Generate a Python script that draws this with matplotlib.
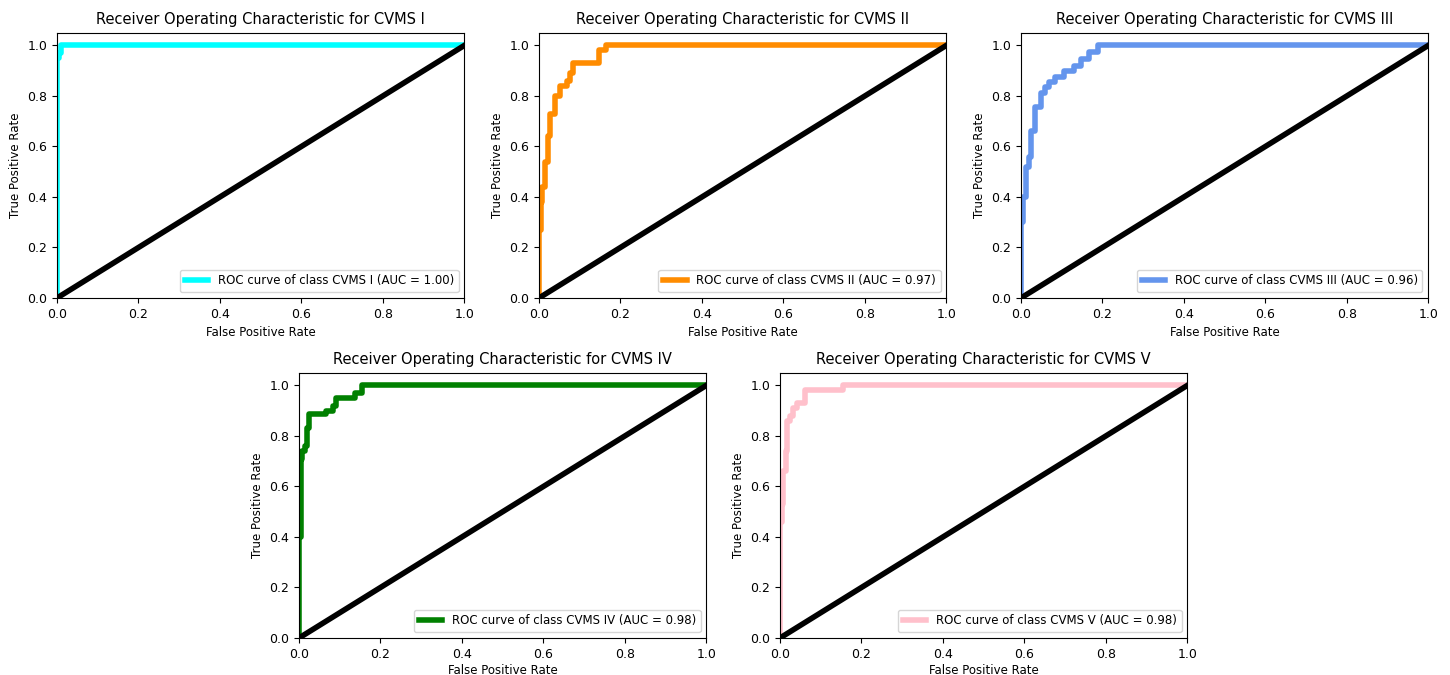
import matplotlib
matplotlib.use("Agg")
import matplotlib.pyplot as plt

# ROC corner points (drawn with steps-post)
fpr_1 = [0.0, 0.0, 0.005, 0.010, 1.0]
tpr_1 = [0.0, 0.95, 0.97, 1.0, 1.0]

fpr_2 = [0.0, 0.0, 0.004, 0.008, 0.016, 0.022, 0.028, 0.040, 0.052, 0.068, 0.076, 0.084, 0.148, 0.164, 1.0]
tpr_2 = [0.0, 0.27, 0.38, 0.44, 0.54, 0.64, 0.73, 0.80, 0.84, 0.86, 0.89, 0.93, 0.98, 1.0, 1.0]

fpr_3 = [0.0, 0.0, 0.004, 0.012, 0.019, 0.024, 0.035, 0.049, 0.060, 0.068, 0.084, 0.106, 0.131, 0.147, 0.167, 0.190, 1.0]
tpr_3 = [0.0, 0.30, 0.40, 0.52, 0.56, 0.66, 0.755, 0.81, 0.835, 0.855, 0.874, 0.90, 0.92, 0.947, 0.973, 1.0, 1.0]

fpr_4 = [0.0, 0.0, 0.004, 0.008, 0.014, 0.020, 0.025, 0.066, 0.083, 0.091, 0.138, 0.155, 1.0]
tpr_4 = [0.0, 0.40, 0.71, 0.74, 0.76, 0.83, 0.885, 0.90, 0.92, 0.95, 0.97, 1.0, 1.0]

fpr_5 = [0.0, 0.0, 0.004, 0.008, 0.014, 0.018, 0.024, 0.031, 0.041, 0.061, 0.155, 1.0]
tpr_5 = [0.0, 0.46, 0.53, 0.66, 0.74, 0.86, 0.88, 0.91, 0.93, 0.98, 1.0, 1.0]

class_names = ["CVMS I", "CVMS II", "CVMS III", "CVMS IV", "CVMS V"]
auc_values = [1.00, 0.97, 0.96, 0.98, 0.98]
colors = ["aqua", "darkorange", "cornflowerblue", "green", "pink"]

curves = [(fpr_1, tpr_1), (fpr_2, tpr_2), (fpr_3, tpr_3), (fpr_4, tpr_4), (fpr_5, tpr_5)]

fig = plt.figure(figsize=(14.5, 6.75), dpi=100)

# axes boxes in figure fraction [left, bottom, width, height]
w, h = 0.281, 0.393
positions = [
    [0.0393, 0.5585, w, h],
    [0.3717, 0.5585, w, h],
    [0.7041, 0.5585, w, h],
    [0.2062, 0.0548, w, h],
    [0.5379, 0.0548, w, h],
]

for i, (fpr, tpr) in enumerate(curves):
    ax = fig.add_axes(positions[i])
    ax.plot(fpr, tpr, color=colors[i], lw=4, drawstyle="steps-post",
            label="ROC curve of class %s (AUC = %0.2f)" % (class_names[i], auc_values[i]))
    ax.plot([0, 1], [0, 1], "k-", lw=4)
    ax.set_xlim([0.0, 1.0])
    ax.set_ylim([0.0, 1.05])
    # bottom row sits close to the figure edge, so tuck its label in a bit
    ax.set_xlabel("False Positive Rate", fontsize=8.5, labelpad=2 if i > 2 else 4)
    ax.set_ylabel("True Positive Rate", fontsize=8.5)
    ax.set_title("Receiver Operating Characteristic for %s" % class_names[i], fontsize=10.5)
    ax.tick_params(labelsize=9)
    ax.legend(loc="lower right", fontsize=8.5)

fig.savefig("out.png", dpi=100)
